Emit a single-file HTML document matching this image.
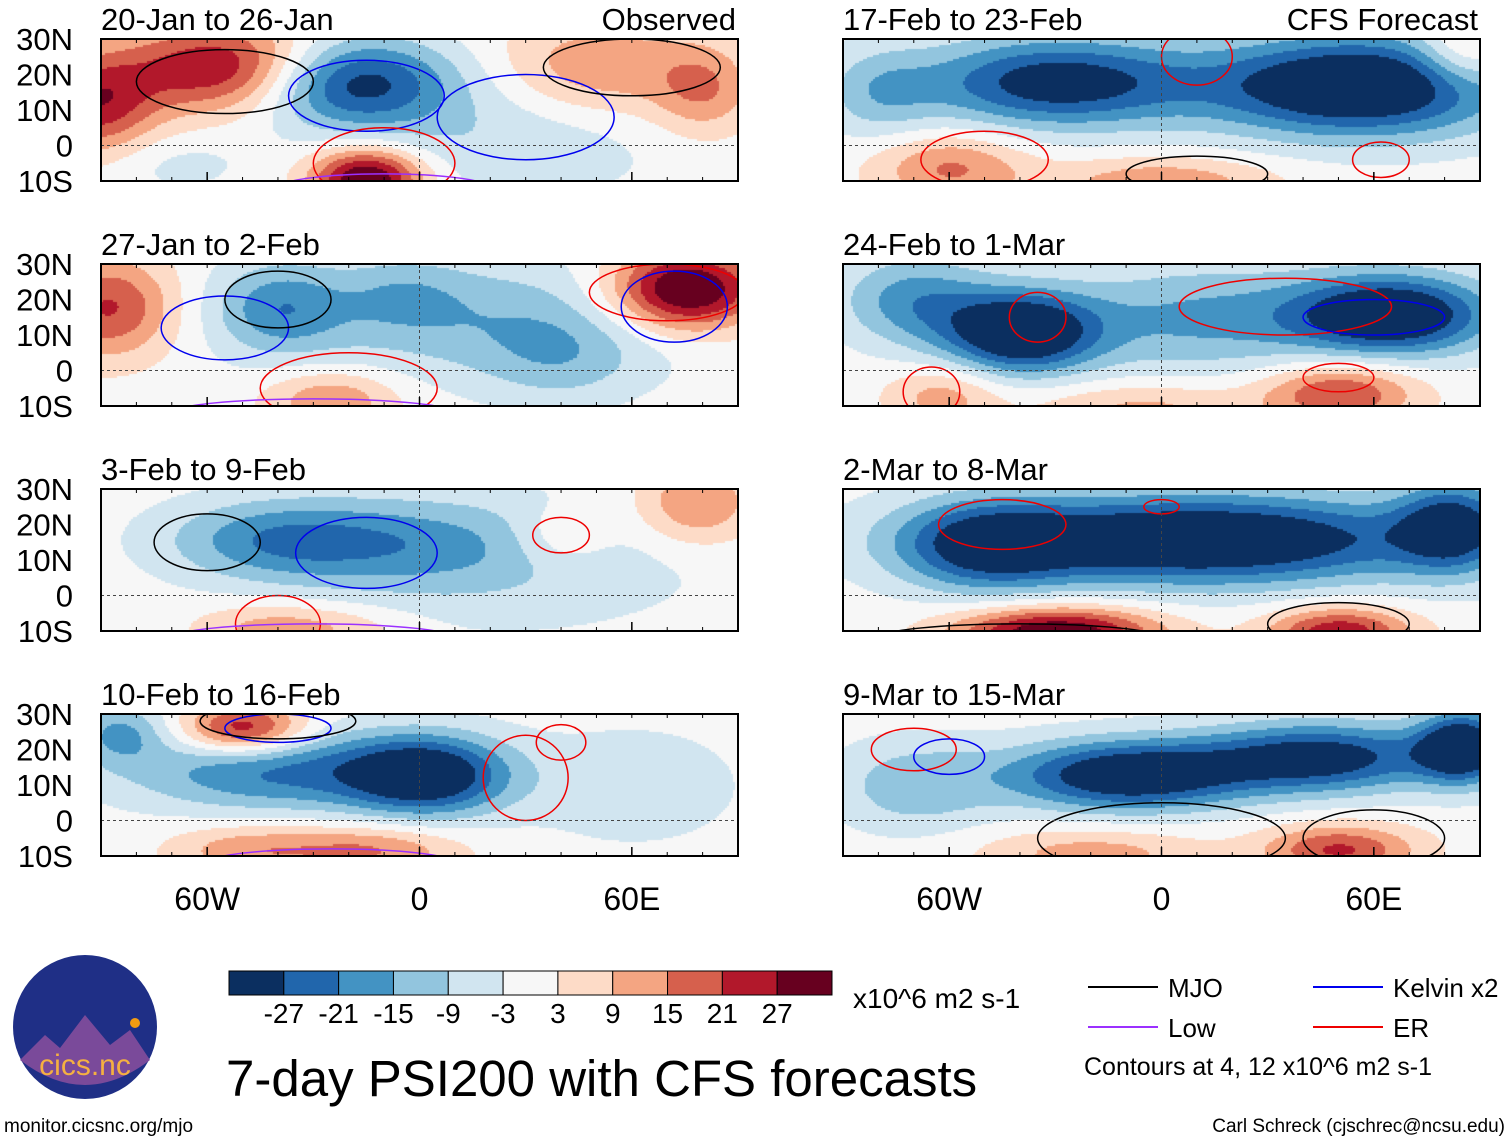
<!DOCTYPE html>
<html><head><meta charset="utf-8">
<style>
body{margin:0;width:1510px;height:1142px;background:#fff;position:relative;overflow:hidden;font-family:"Liberation Sans",sans-serif;}
canvas{position:absolute;}
</style></head>
<body>
<div id="root"></div>
<svg id="ov" width="1510" height="1142" style="position:absolute;left:0;top:0"></svg>
<script>
// ---- data ----
const panelTitles = ["20-Jan to 26-Jan","27-Jan to 2-Feb","3-Feb to 9-Feb","10-Feb to 16-Feb","17-Feb to 23-Feb","24-Feb to 1-Mar","2-Mar to 8-Mar","9-Mar to 15-Mar"];
const latTicks = ["30N","20N","10N","0","10S"];
const latVals = [30,20,10,0,-10];
const lonTicks = ["60W","0","60E"];
const lonVals = [-60,0,60];
const levelLabels = ["-27","-21","-15","-9","-3","3","9","15","21","27"];
const levels = [-27,-21,-15,-9,-3,3,9,15,21,27];
const colors = ["#0b2f60","#2166ac","#4393c3","#92c5de","#d1e5f0","#f7f7f7","#fddbc7","#f4a582","#d6604d","#b2182b","#67001f"];
// anomaly blobs: [lon, lat, value, sigmaLon, sigmaLat]
const blobs0 = [[-55,22,30,20,9],[-20,18,-32,20,9],[-92,12,24,12,10],[-15,-9,36,11,6],[50,22,14,20,10],[80,16,14,10,9],[25,2,-8,30,12],[-70,-5,-5,15,6]];
const blobs1 = [[-88,18,22,13,10],[-40,18,-16,13,9],[15,15,-13,40,12],[75,23,38,15,8],[-25,-8,15,13,6],[40,3,-9,16,9],[-5,22,-7,12,7]];
const blobs2 = [[-42,16,-16,22,8],[-5,15,-11,28,9],[20,10,-8,42,14],[78,26,16,12,8],[40,17,9,10,6],[-45,-9,9,14,5],[-25,-9,8,16,5]];
const blobs3 = [[-40,14,-22,30,8],[2,13,-32,16,8],[-50,26,28,12,5],[-50,-8,12,15,5],[-15,-8,16,18,5],[60,10,-7,22,12],[-85,25,-15,9,6]];
const blobs4 = [[-30,18,-32,27,9],[55,17,-40,30,10],[-60,-6,16,15,7],[0,-10,14,22,5],[85,26,14,9,7],[-80,15,-11,11,9]];
const blobs5 = [[-40,11,-38,15,8],[-70,20,-18,15,9],[65,16,-38,20,8],[10,15,-16,28,11],[-62,-7,12,11,6],[50,-6,22,15,6],[-5,-10,11,22,5]];
const blobs6 = [[10,16,-40,48,9],[-50,14,-22,17,9],[-30,-10,34,20,5],[50,-10,26,14,5],[82,20,-26,11,9]];
const blobs7 = [[-10,13,-36,24,7],[45,18,-32,24,7],[85,21,-36,9,7],[-20,-9,12,22,5],[50,-8,22,15,5],[-70,10,-13,16,9]];
const allBlobs = [blobs0,blobs1,blobs2,blobs3,blobs4,blobs5,blobs6,blobs7];
// contour ellipses: [lon, lat, rLon, rLat, type] type 0 MJO,1 Kelvin,2 Low,3 ER
const cont0 = [[-55,18,25,9,0],[-15,14,22,10,1],[-10,-5,20,10,3],[30,8,25,12,1],[60,22,25,8,0],[-10,-12,30,4,2]];
const cont1 = [[-55,12,18,9,1],[-40,20,15,8,0],[70,22,22,8,3],[72,18,15,10,1],[-20,-5,25,10,3],[-30,-12,40,4,2]];
const cont2 = [[-15,12,20,10,1],[-60,15,15,8,0],[40,17,8,5,3],[-40,-8,12,8,3],[-30,-12,40,4,2]];
const cont3 = [[-40,26,15,4,1],[-40,28,22,5,0],[30,12,12,12,3],[40,22,7,5,3],[-25,-12,35,4,2]];
const cont4 = [[10,25,10,8,3],[-50,-4,18,8,3],[-10,-14,60,4,2],[10,-8,20,5,0],[62,-4,8,5,3]];
const cont5 = [[-35,15,8,7,3],[35,18,30,8,3],[60,15,20,5,1],[-65,-6,8,7,3],[50,-2,10,4,3],[-20,-14,40,4,2]];
const cont6 = [[-45,20,18,7,3],[0,25,5,2,3],[-40,-12,40,4,0],[50,-8,20,6,0],[-20,-13,50,3,2]];
const cont7 = [[-70,20,12,6,3],[-60,18,10,5,1],[0,-5,35,10,0],[60,-5,20,8,0],[0,-13,60,3,2]];
const allCont = [cont0,cont1,cont2,cont3,cont4,cont5,cont6,cont7];
const contColors = ["#000","#0000ee","#9b30ff","#ee0000"];

// ---- layout ----
const colX = [101,843], rowY = [39,264,489,714], PW = 637, PH = 142;
function xOf(lon,px){return px + (lon+90)/180*PW;}
function yOf(lat,py){return py + (30-lat)/40*PH;}
function colorFor(v){let i=0;while(i<levels.length && v>=levels[i]) i++;return colors[i];}
const ov=document.getElementById('ov');
const NS="http://www.w3.org/2000/svg";
function mk(tag,attrs,parent){const e=document.createElementNS(NS,tag);for(const k in attrs)e.setAttribute(k,attrs[k]);(parent||ov).appendChild(e);return e;}
function txt(s,x,y,size,anchor){const t=mk('text',{x:x,y:y,'font-size':size,'text-anchor':anchor||'start','font-family':'Liberation Sans, sans-serif',fill:'#000'});t.textContent=s;return t;}

for(let p=0;p<8;p++){
  const px=colX[Math.floor(p/4)], py=rowY[p%4];
  const cv=document.createElement('canvas');
  
  
  cv.width=PW;cv.height=PH;cv.style.left=px+'px';cv.style.top=py+'px';
  document.body.insertBefore(cv,ov);
  const ctx=cv.getContext('2d');
  const bl=allBlobs[p];
  for(let yy=0;yy<PH;yy+=2){for(let xx=0;xx<PW;xx+=2){
    const lon=-90+xx/PW*180, lat=30-yy/PH*40;let v=0;
    for(const b of bl){const dx=(lon-b[0])/b[3],dy=(lat-b[1])/b[4];v+=b[2]*Math.exp(-0.5*(dx*dx+dy*dy));}
    ctx.fillStyle=colorFor(v);ctx.fillRect(xx,yy,2,2);
  }}
  const g=mk('g',{});
  
  
  for(const c of allCont[p]){
    const e=mk('ellipse',{cx:xOf(c[0],px),cy:yOf(c[1],py),rx:c[2]/180*PW,ry:c[3]/40*PH,fill:'none',stroke:contColors[c[4]],'stroke-width':1.5},g);
    
    
  }
  mk('line',{x1:px,x2:px+PW,y1:yOf(0,py),y2:yOf(0,py),stroke:'#444','stroke-dasharray':'3,3','stroke-width':1},g);
  mk('line',{x1:xOf(0,px),x2:xOf(0,px),y1:py,y2:py+PH,stroke:'#444','stroke-dasharray':'3,3','stroke-width':1},g);
  for(let l=-90;l<=90;l+=10){const x=xOf(l,px);mk('line',{x1:x,x2:x,y1:py,y2:py+4,stroke:'#000'},g);mk('line',{x1:x,x2:x,y1:py+PH-4,y2:py+PH,stroke:'#000'},g);}
  for(const l of lonVals){const x=xOf(l,px);mk('line',{x1:x,x2:x,y1:py+PH-9,y2:py+PH,stroke:'#000','stroke-width':1.5},g);}
  const t=txt(panelTitles[p],px,py-9,31);
  
  
  if(p%4===0){const s=txt(p<4?"Observed":"CFS Forecast",px+PW-2,py-9,31,'end');
    
    }
  if(p<4){latVals.forEach((lv,i)=>{const a=txt(latTicks[i],73,yOf(lv,py)+11,31,'end');
    
    });}
  if(p%4===3){lonVals.forEach((lv,i)=>{const a=txt(lonTicks[i],xOf(lv,px),910,32,'middle');
    
    });}
}
const masks=[[0,0,1510,38],[0,182,1510,81],[0,407,1510,81],[0,632,1510,81],[0,857,1510,40],[738,0,105,900],[1480,0,30,900],[60,0,41,900]];
for(const m of masks){const r=document.createElementNS(NS,'rect');r.setAttribute('x',m[0]);r.setAttribute('y',m[1]);r.setAttribute('width',m[2]);r.setAttribute('height',m[3]);r.setAttribute('fill','#fff');ov.appendChild(r);}
Array.from(ov.querySelectorAll('text')).forEach(t=>ov.appendChild(t));
for(let p=0;p<8;p++){const px=colX[Math.floor(p/4)], py=rowY[p%4];
  const b=mk('rect',{x:px,y:py,width:PW,height:PH,fill:'none',stroke:'#000','stroke-width':2});
  
  }
const cbX=229,cbY=971,cbW=603,cbH=24,cw=cbW/colors.length;
colors.forEach((c,i)=>{const r=mk('rect',{x:cbX+i*cw,y:cbY,width:cw,height:cbH,fill:c,stroke:'#000','stroke-width':1});
  
  });
levelLabels.forEach((l,i)=>{const t=txt(l,cbX+(i+1)*cw,1023,28,'middle');
  
  });
let u=txt("x10^6 m2 s-1",853,1008,28);


const leg=[["MJO",1088,987,"#000"],["Kelvin x2",1313,987,"#0000ee"],["Low",1088,1027,"#9b30ff"],["ER",1313,1027,"#ee0000"]];
leg.forEach(l=>{const ln=mk('line',{x1:l[1],x2:l[1]+70,y1:l[2],y2:l[2],stroke:l[3],'stroke-width':2});
  
  
  const t=txt(l[0],l[1]+80,l[2]+10,26);
  
  });
u=txt("Contours at 4, 12 x10^6 m2 s-1",1084,1075,25);


u=txt("7-day PSI200 with CFS forecasts",226,1096,51);


u=txt("monitor.cicsnc.org/mjo",4,1132,19);


u=txt("Carl Schreck (cjschrec@ncsu.edu)",1505,1132,19,'end');


const lg=mk('g',{});


mk('circle',{cx:85,cy:1027,r:72,fill:'#1f2f86'},lg);
mk('path',{d:'M20,1060 L45,1035 L60,1048 L85,1015 L110,1045 L130,1030 L150,1060 Q85,1110 20,1060Z',fill:'#7a4a9a'},lg);
mk('circle',{cx:135,cy:1023,r:5,fill:'#f39c12'},lg);
const lt=mk('text',{x:85,y:1075,'font-size':30,'text-anchor':'middle',fill:'#f5b041','font-family':'Liberation Sans, sans-serif'},lg);
lt.textContent="cics.nc";
</script>
</body></html>
